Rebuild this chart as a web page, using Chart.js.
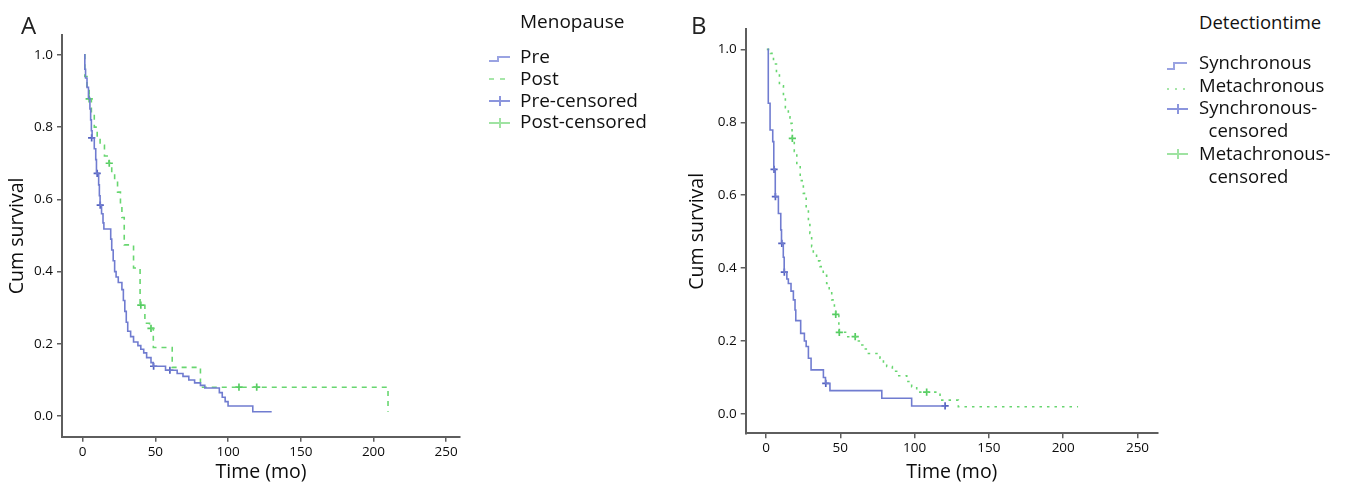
<!DOCTYPE html>
<html>
<head>
<meta charset="utf-8">
<script src="https://cdn.jsdelivr.net/npm/chart.js@4.4.1/dist/chart.umd.min.js"></script>
<style>
body { margin: 0; background: #fff; font-family: 'Open Sans', sans-serif; color: #111; }
#wrap { position: relative; width: 1347px; height: 484px; overflow: hidden; }
canvas { position: absolute; top: 0; }
.tag { position: absolute; font-size: 24px; line-height: 24px; color: #222; }
.lg { position: absolute; white-space: nowrap; }
.lg svg { position: absolute; }
</style>
</head>
<body>
<div id="wrap">
    <canvas id="chartA" width="470" height="484" style="left:0"></canvas>
    <canvas id="chartB" width="490" height="484" style="left:680px"></canvas>

    <div class="tag" style="left:21px;top:13px">A</div>
    <div class="tag" style="left:691px;top:13px">B</div>

    <div class="lg" style="left:520px;top:10px;font-size:19px;line-height:23px">Menopause</div>
    <div class="lg" style="left:488px;top:46px;font-size:19px;line-height:21.8px">
        <svg width="24" height="90" style="left:0;top:0">
            <path d="M1 15 H10 V11 H22" stroke="#9aa3e2" stroke-width="2" fill="none"/>
            <path d="M1 33 H22" stroke="#a6e6a8" stroke-width="2" stroke-dasharray="5 6" fill="none"/>
            <path d="M1 55 H22 M12 50 V60" stroke="#8b95dd" stroke-width="2" fill="none"/>
            <path d="M1 77 H22 M12 72 V82" stroke="#9fe3a2" stroke-width="2" fill="none"/>
        </svg>
        <div style="margin-left:32px">Pre<br>Post<br>Pre-censored<br>Post-censored</div>
    </div>

    <div class="lg" style="left:1199px;top:10px;font-size:18.5px;line-height:23px">Detectiontime</div>
    <div class="lg" style="left:1166px;top:51px;font-size:18.5px;line-height:22.7px">
        <svg width="24" height="140" style="left:0;top:0">
            <path d="M1 18 H8 V12 H21" stroke="#9aa3e2" stroke-width="2" fill="none"/>
            <path d="M1 38 H22" stroke="#a6e6a8" stroke-width="2" stroke-dasharray="2 6" fill="none"/>
            <path d="M1 58 H22 M12 53 V63" stroke="#8b95dd" stroke-width="2" fill="none"/>
            <path d="M1 103 H22 M12 98 V108" stroke="#9fe3a2" stroke-width="2" fill="none"/>
        </svg>
        <div style="margin-left:33px">Synchronous<br>Metachronous<br>Synchronous-<br>&nbsp;&nbsp;censored<br>Metachronous-<br>&nbsp;&nbsp;censored</div>
    </div>
</div>

<script>
// ticks shared by both panels
let timeTicks = [0, 50, 100, 150, 200, 250];
let survTicks = [0, 0.2, 0.4, 0.6, 0.8, 1.0];

// panel A - Menopause
let preTime = [1, 1.5, 2, 3, 4, 5, 5.5, 6, 6.5, 8, 9, 9.5, 11, 11.5, 12, 13, 14, 14.6, 19.3, 20, 21, 22, 23, 24.5, 27, 28, 29, 30, 31, 33, 35, 38, 40, 42, 44, 47, 48.5, 57, 65, 69, 73, 77, 81, 84, 94, 96, 98, 100, 117, 130];
let preSurv = [1.0, 0.96, 0.936, 0.91, 0.88, 0.85, 0.82, 0.79, 0.77, 0.74, 0.71, 0.672, 0.64, 0.61, 0.584, 0.56, 0.535, 0.518, 0.49, 0.46, 0.43, 0.40, 0.385, 0.37, 0.35, 0.32, 0.29, 0.26, 0.235, 0.22, 0.205, 0.195, 0.185, 0.175, 0.162, 0.148, 0.138, 0.127, 0.118, 0.11, 0.10, 0.092, 0.085, 0.078, 0.065, 0.052, 0.04, 0.028, 0.012, 0.012];
let preCensTime = [6.2, 10, 12.1, 48.8, 60];
let preCensSurv = [0.77, 0.672, 0.584, 0.138, 0.127];

let postTime = [1, 1.5, 3, 4.5, 6, 8, 10, 12, 15, 18, 20, 22, 24, 26, 27, 28.6, 35, 39.5, 42.8, 46, 48.6, 61.6, 81, 210];
let postSurv = [1.0, 0.94, 0.91, 0.878, 0.84, 0.80, 0.77, 0.75, 0.72, 0.70, 0.67, 0.65, 0.62, 0.58, 0.55, 0.474, 0.41, 0.307, 0.257, 0.243, 0.19, 0.135, 0.08, 0.012];
let postCensTime = [4.5, 18.3, 40, 47, 107.5, 119.7];
let postCensSurv = [0.878, 0.70, 0.307, 0.243, 0.08, 0.08];

// panel B - Detection time
let syncTime = [1, 1.5, 2.7, 4.5, 5.2, 6.2, 8.3, 9.9, 10.4, 11.6, 12.2, 14, 15, 16.8, 18.4, 19.5, 20, 23.3, 25.8, 27, 28.5, 30.3, 38.6, 40, 43, 77.9, 98, 120.5];
let syncSurv = [1.0, 0.852, 0.779, 0.747, 0.671, 0.596, 0.55, 0.505, 0.468, 0.43, 0.389, 0.37, 0.358, 0.337, 0.313, 0.285, 0.256, 0.221, 0.2, 0.185, 0.153, 0.121, 0.1, 0.084, 0.064, 0.043, 0.022, 0.022];
let syncCensTime = [5.4, 6.3, 10.6, 12.3, 40.2, 120.5];
let syncCensSurv = [0.671, 0.596, 0.468, 0.389, 0.084, 0.022];

let metaTime = [0.5, 3, 5, 7, 9, 11.7, 13, 15, 16.1, 17.5, 19, 20.7, 23, 25.1, 27, 28.5, 29.5, 30.7, 31.8, 34, 36.3, 38.5, 40.8, 42.5, 44.2, 46, 46.9, 49, 55, 61, 63.3, 66, 68.9, 76.7, 79, 81.2, 85, 87.9, 94.7, 98, 101.4, 117.1, 129.4, 210];
let metaSurv = [1.0, 0.989, 0.96, 0.934, 0.90, 0.87, 0.84, 0.815, 0.797, 0.756, 0.72, 0.678, 0.64, 0.605, 0.565, 0.523, 0.495, 0.459, 0.44, 0.42, 0.404, 0.38, 0.358, 0.335, 0.313, 0.29, 0.273, 0.224, 0.212, 0.20, 0.189, 0.178, 0.166, 0.153, 0.14, 0.13, 0.117, 0.105, 0.089, 0.075, 0.06, 0.038, 0.02, 0.02];
let metaCensTime = [17.7, 46.9, 49.3, 60, 108.1];
let metaCensSurv = [0.756, 0.273, 0.224, 0.212, 0.06];

const BLUE = 'rgb(112, 124, 208)';
const BLUE_MARK = 'rgb(84, 98, 192)';
const GREEN = 'rgb(104, 214, 112)';
const GREEN_MARK = 'rgb(86, 204, 98)';
const AXIS = '#5e5e5e';
const FONT = "'Open Sans', sans-serif";

let pts = function (t, s) {
    return t.map((x, i) => ({ x: x, y: s[i] }));
};

let curve = function (t, s, color, dash) {
    return {
        data: pts(t, s), showLine: true, stepped: 'before',
        borderColor: color, borderWidth: 1.6, borderDash: dash,
        pointRadius: 0, fill: false
    };
};

let marks = function (t, s, color) {
    return {
        data: pts(t, s), showLine: false, pointStyle: 'cross',
        pointRadius: 3.6, borderColor: color, borderWidth: 1.7, backgroundColor: color
    };
};

let scales = function (box) {
    return {
        x: {
            type: 'linear', min: box.xMin, max: box.xMax,
            afterBuildTicks: s => { s.ticks = timeTicks.map(v => ({ value: v })); },
            afterFit: s => { s.height = box.xh; },
            grid: { drawOnChartArea: false, tickLength: 5, color: AXIS, lineWidth: 1.5 },
            border: { color: AXIS, width: 2 },
            ticks: { padding: 2, color: '#0c0c0c', font: { family: FONT, size: 13.5 }, maxRotation: 0 },
            title: { display: true, text: 'Time (mo)', color: '#0c0c0c', font: { family: FONT, size: 19.5 }, padding: { top: 0, bottom: box.tb } }
        },
        y: {
            type: 'linear', min: box.yMin, max: 1.055,
            afterBuildTicks: s => { s.ticks = survTicks.map(v => ({ value: v })); },
            afterFit: s => { s.width = box.yw; },
            grid: { drawOnChartArea: false, tickLength: 5, color: AXIS, lineWidth: 1.5 },
            border: { color: AXIS, width: 2 },
            ticks: { padding: 4, color: '#0c0c0c', font: { family: FONT, size: 13.5 }, callback: v => Number(v).toFixed(1) },
            title: { display: true, text: 'Cum survival', color: '#0c0c0c', font: { family: FONT, size: 19.5 }, padding: { top: 6, bottom: 0 } }
        }
    };
};

let drawKM = function (id, datasets, box) {
    let ctx = document.getElementById(id).getContext('2d');
    return new Chart(ctx, {
        type: 'scatter',
        data: { datasets: datasets },
        options: {
            responsive: false,
            animation: false,
            layout: { padding: { top: box.top, right: box.right, left: 0, bottom: 0 } },
            plugins: { legend: { display: false }, tooltip: { enabled: false } },
            scales: scales(box)
        }
    });
};

window.onload = function () {
    window.chartA = drawKM('chartA', [
        curve(preTime, preSurv, BLUE, []),
        curve(postTime, postSurv, GREEN, [5, 5]),
        marks(preCensTime, preCensSurv, BLUE_MARK),
        marks(postCensTime, postCensSurv, GREEN_MARK)
    ], { top: 35, right: 10, yw: 62, xh: 47.3, tb: 0, xMin: -14.2, xMax: 259.5, yMin: -0.057 });

    window.chartB = drawKM('chartB', [
        curve(syncTime, syncSurv, BLUE, []),
        curve(metaTime, metaSurv, GREEN, [2.5, 5]),
        marks(syncCensTime, syncCensSurv, BLUE_MARK),
        marks(metaCensTime, metaCensSurv, GREEN_MARK)
    ], { top: 29.3, right: 12, yw: 65.7, xh: 50.7, tb: 0, xMin: -13.7, xMax: 263.8, yMin: -0.053 });
};
</script>
</body>
</html>
